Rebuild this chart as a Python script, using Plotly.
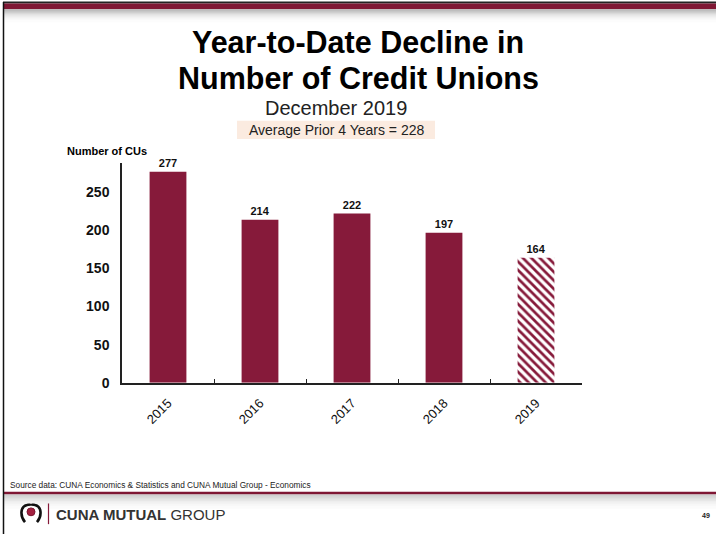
import plotly.graph_objects as go

# Year-to-date decline in number of credit unions
years = ["2015", "2016", "2017", "2018", "2019"]
declines = [277, 214, 222, 197, 164]
y_ticks = [0, 50, 100, 150, 200, 250]

W, H = 716, 542
MAROON = "#861a3a"
BAND = "#7f1734"
LABEL_FONT = dict(family="Liberation Sans, Arial", size=11, color="#111111", weight="bold")


def px(x):
    return x / W


def py(y):
    return 1 - y / H


fig = go.Figure()

# completed years: solid bars
fig.add_trace(go.Bar(
    x=years[:4],
    y=declines[:4],
    text=[str(v) for v in declines[:4]],
    textposition="outside",
    cliponaxis=False,
    textfont=LABEL_FONT,
    marker=dict(color=MAROON, line=dict(width=0)),
    width=0.4,
    hoverinfo="skip",
))
# current year: hatched bar
fig.add_trace(go.Bar(
    x=years[4:],
    y=declines[4:],
    text=[str(v) for v in declines[4:]],
    textposition="outside",
    cliponaxis=False,
    textfont=LABEL_FONT,
    marker=dict(
        color="white",
        line=dict(width=0),
        pattern=dict(shape="\\", fgcolor=MAROON, bgcolor="white", fillmode="replace",
                     size=6, solidity=0.45),
    ),
    width=0.4,
    hoverinfo="skip",
))

shapes = []
# top band: thin dark line, maroon bar and a soft grey fade below it
shapes.append(dict(type="rect", xref="paper", yref="paper", x0=px(3), x1=1, y0=py(3.5), y1=py(1.5),
                   fillcolor="#222222", line_width=0, layer="below"))
shapes.append(dict(type="rect", xref="paper", yref="paper", x0=px(3), x1=1, y0=py(9.5), y1=py(3.5),
                   fillcolor=BAND, line_width=0, layer="below"))
fade = ["#b8b8b8", "#c4c4c4", "#cfcfcf", "#d9d9d9", "#e2e2e2", "#eaeaea", "#f0f0f0",
        "#f5f5f5", "#f9f9f9", "#fcfcfc"]
for i, c in enumerate(fade):
    shapes.append(dict(type="rect", xref="paper", yref="paper", x0=px(4), x1=1,
                       y0=py(10.5 + 1.2 * (i + 1)), y1=py(9.5 + 1.2 * i),
                       fillcolor=c, line_width=0, layer="below"))
# footer rule with fade
shapes.append(dict(type="rect", xref="paper", yref="paper", x0=px(3), x1=1, y0=py(502), y1=py(499),
                   fillcolor=BAND, line_width=0, layer="below"))
fade2 = ["#d0d0d0", "#d8d8d8", "#e0e0e0", "#e7e7e7", "#eeeeee", "#f3f3f3", "#f7f7f7", "#fbfbfb"]
for i, c in enumerate(fade2):
    shapes.append(dict(type="rect", xref="paper", yref="paper", x0=px(4), x1=1,
                       y0=py(503.5 + 1.6 * (i + 1)), y1=py(502 + 1.6 * i),
                       fillcolor=c, line_width=0, layer="below"))
# left frame line
shapes.append(dict(type="line", xref="paper", yref="paper", x0=px(3.5), x1=px(3.5), y0=py(2), y1=0,
                   line=dict(color="#111111", width=1.5)))
# subtitle highlight box
shapes.append(dict(type="rect", xref="paper", yref="paper", x0=px(237), x1=px(435), y0=py(141), y1=py(122.5),
                   fillcolor="#fbebe0", line_width=0, layer="below"))


# logo mark: arching figure with a round head
def path(points):
    d = "M {} {}".format(px(points[0][0]), py(points[0][1]))
    for seg in points[1:]:
        d += " C " + " ".join("{} {}".format(px(a), py(b)) for a, b in seg)
    return d


arch_l = [(25, 530), ((20, 524), (20, 514), (27, 512.5)), ((29, 512), (31, 512.5), (31, 513))]
arch_r = [(37, 530), ((42, 524), (42, 514), (35, 512.5)), ((33, 512), (31, 512.5), (31, 513))]
shapes.append(dict(type="path", xref="paper", yref="paper", path=path(arch_l),
                   line=dict(color="#111111", width=2.6)))
shapes.append(dict(type="path", xref="paper", yref="paper", path=path(arch_r),
                   line=dict(color="#111111", width=2.6)))
shapes.append(dict(type="circle", xref="paper", yref="paper", x0=px(27), x1=px(35), y0=py(523.5), y1=py(515.5),
                   fillcolor="#a3203f", line=dict(color="#7a1530", width=1)))
shapes.append(dict(type="line", xref="paper", yref="paper", x0=px(48.5), x1=px(48.5), y0=py(532), y1=py(511),
                   line=dict(color=MAROON, width=1.2)))

ann = []


def text(x, y, s, size, bold=False, color="#000000", xanchor="center", family="Liberation Sans, Arial"):
    ann.append(dict(x=px(x), y=py(y), xref="paper", yref="paper", text=s, showarrow=False,
                    xanchor=xanchor, yanchor="middle",
                    font=dict(family=family, size=size, color=color, weight="bold" if bold else "normal")))


text(358, 43, "Year-to-Date Decline in", 30.5, bold=True)
text(358, 79, "Number of Credit Unions", 30.5, bold=True)
text(336, 110, "December 2019", 20, color="#222222")
text(336, 132, "Average Prior 4 Years = 228", 14, color="#222222")
text(65, 153, "Number of CUs", 11, bold=True, xanchor="left")
text(8, 492.5, "Source data: CUNA Economics &amp; Statistics and CUNA Mutual Group - Economics", 8.3,
     color="#222222", xanchor="left")
text(54, 522, "<b>CUNA MUTUAL</b> GROUP", 15, color="#333333", xanchor="left")
text(712, 523, "49", 7, bold=True, color="#222222", xanchor="right")

fig.update_layout(
    width=W, height=H,
    margin=dict(l=0, r=0, t=0, b=0),
    paper_bgcolor="white", plot_bgcolor="white",
    showlegend=False,
    barmode="overlay",
    shapes=shapes,
    annotations=ann,
    font=dict(family="Liberation Sans, Arial", color="#000000"),
    xaxis=dict(
        domain=[px(122), px(582)],
        anchor="y",
        categoryorder="array", categoryarray=years,
        showline=True, linecolor="#222222", linewidth=1.5,
        ticks="inside", tickson="boundaries", ticklen=4, tickcolor="#222222", tickwidth=1,
        tickangle=-45, ticklabelstandoff=6,
        tickfont=dict(size=13, color="#111111"),
        showgrid=False, zeroline=False, fixedrange=True,
    ),
    yaxis=dict(
        domain=[py(388.5), py(165)],
        anchor="x",
        range=[0, 289],
        tickvals=y_ticks,
        showline=True, linecolor="#222222", linewidth=1.5,
        ticks="", ticklabelstandoff=8,
        tickfont=dict(size=14, color="#111111", weight="bold"),
        showgrid=False, zeroline=False, fixedrange=True,
    ),
)

fig.write_html("out.html")
